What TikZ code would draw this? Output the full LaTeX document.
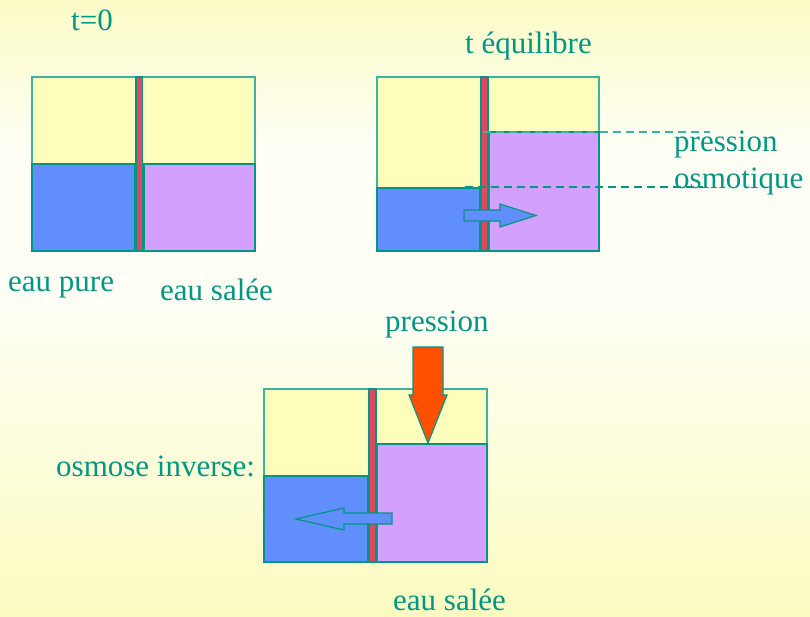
\documentclass[tikz,border=0pt]{standalone}
\usepackage{fontspec}
\setmainfont{Liberation Serif}
\newfontfamily\lblfont{Liberation Serif}
\definecolor{bgtop}{RGB}{251,251,198}
\definecolor{bgmid}{RGB}{255,255,246}
\definecolor{bgbot}{RGB}{251,251,192}
\definecolor{tealtxt}{RGB}{0,150,132}
\definecolor{lteal}{RGB}{60,178,160}
\definecolor{pyellow}{RGB}{253,253,188}
\definecolor{wblue}{RGB}{96,142,252}
\definecolor{wpurple}{RGB}{212,160,255}
\definecolor{mred}{RGB}{226,70,96}
\definecolor{porange}{RGB}{255,80,0}
\tikzset{
  lbl/.style={anchor=base west,inner sep=0pt,text=tealtxt,font=\lblfont\fontsize{31}{36}\selectfont},
  chamber/.style={fill=pyellow,draw=lteal,line width=1.4pt},
  water/.style={draw=tealtxt,line width=1.4pt},
  membrane/.style={fill=mred,draw=tealtxt,line width=1.2pt},
  dashline/.style={draw=lteal,line width=1.2pt,dash pattern=on 8pt off 5pt},
  flowarrow/.style={fill=wblue,draw=tealtxt,line width=1.2pt,line join=miter}
}
\begin{document}
\begin{tikzpicture}[x=1pt,y=-1pt]
\shade[top color=bgtop,bottom color=bgmid,middle color=bgmid] (0,0) rectangle (810,300);
\shade[top color=bgmid,bottom color=bgbot] (0,300) rectangle (810,616);
\useasboundingbox (0,0) rectangle (810,616);

% box 1 (t=0)
\draw[chamber] (32,77) rectangle (255,251);
\draw[water,fill=wblue] (32,164) rectangle (135,251);
\draw[water,fill=wpurple] (144,164) rectangle (255,251);
\draw[membrane] (136,77) rectangle (142.7,251);

% box 2 (equilibrium)
\draw[chamber] (377,77) rectangle (599,251);
\draw[water,fill=wblue] (377,188) rectangle (480,251);
\draw[water,fill=wpurple] (489,132) rectangle (599,251);
\draw[membrane] (481,77) rectangle (488,251);
\coordinate (dA1) at (483,132);
\coordinate (dA2) at (710,132);
\coordinate (dB1) at (465,187);
\coordinate (dB2) at (703,187);
\draw[dashline] (dA1) -- (dA2);
\draw[dashline,draw=tealtxt] (dB1) -- (dB2);
\draw[flowarrow] (464,210) -- (500,210) -- (500,204) -- (536,215.5) -- (500,227) -- (500,221) -- (464,221) -- cycle;

% box 3 (reverse osmosis)
\draw[chamber] (264,389) rectangle (487,562);
\draw[water,fill=wblue] (264,476) rectangle (368,562);
\draw[water,fill=wpurple] (377,444) rectangle (487,562);
\draw[membrane] (369,389) rectangle (376,562);
\draw[fill=porange,draw=tealtxt,line width=1.2pt,line join=miter] (413,347) -- (443,347) -- (443,395) -- (447,395) -- (428,443) -- (409,395) -- (413,395) -- cycle;
\draw[flowarrow] (392,513) -- (344,513) -- (344,508) -- (296,519) -- (344,530) -- (344,524) -- (392,524) -- cycle;

% labels
\node[lbl] (t0) at (71,30.5) {t=0};
\node[lbl] (teq) at (465,53) {t équilibre};
\node[lbl] (po1) at (674,151.5) {pression};
\node[lbl] (po2) at (674,188) {osmotique};
\node[lbl] (pure) at (8,291.5) {eau pure};
\node[lbl] (sal1) at (160,300) {eau salée};
\node[lbl] (pres) at (385,331.5) {pression};
\node[lbl] (inv) at (56,476) {osmose inverse:};
\node[lbl] (sal2) at (393,610) {eau salée};
\end{tikzpicture}
\end{document}
